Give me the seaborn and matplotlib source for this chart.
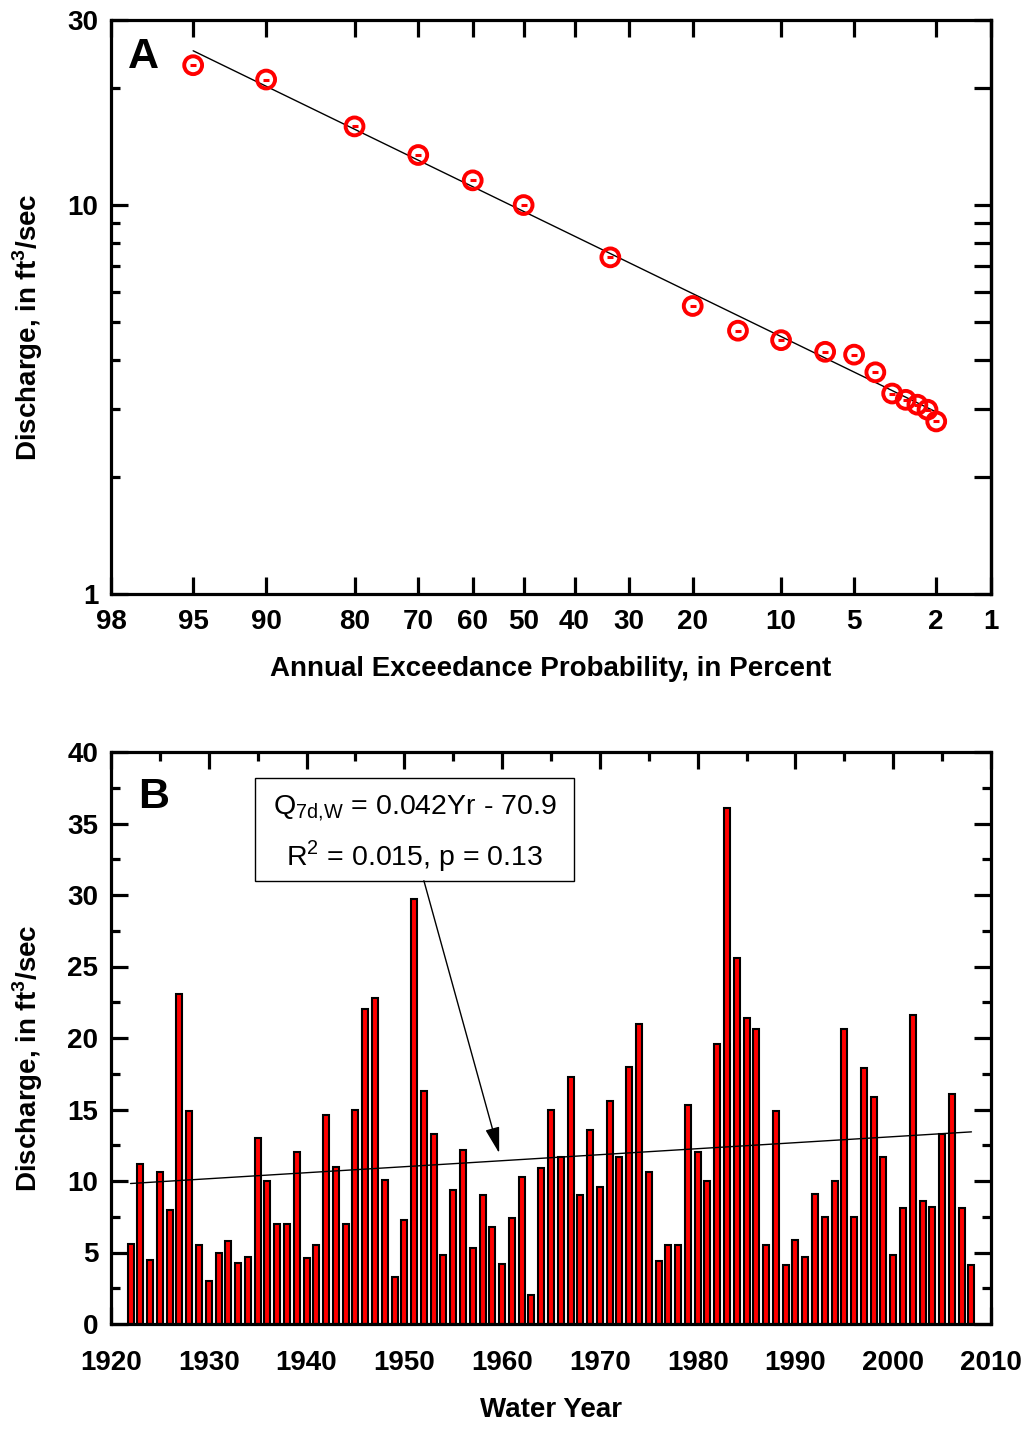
import numpy as np
import matplotlib
matplotlib.use("Agg")
import matplotlib.pyplot as plt
from matplotlib import font_manager
from matplotlib.ticker import FixedLocator, FixedFormatter, NullFormatter, NullLocator
from matplotlib.patches import Rectangle
import seaborn as sns
from statistics import NormalDist

# ---------------- data ----------------
# Panel A: annual 7-day low-flow frequency
exceed_pct = [95, 90, 80, 70, 60, 50, 33.3, 20, 14.3, 10, 6.67, 5, 4, 3.33, 2.86, 2.5, 2.22, 2]
flow_q = [22.95, 21.08, 15.97, 13.48, 11.60, 10.02, 7.35, 5.51, 4.76, 4.50, 4.20, 4.13,
          3.72, 3.28, 3.16, 3.07, 2.98, 2.78]
fit_pct = [95, 2]
fit_q = [25.0, 2.94]
prob_ticks = [98, 95, 90, 80, 70, 60, 50, 40, 30, 20, 10, 5, 2, 1]
q_ticks = [1, 10, 30]
q_minor = [2, 3, 4, 5, 6, 7, 8, 9, 20]

# Panel B: annual series by water year
water_years = list(range(1922, 2009))
annual_q = [5.6, 11.2, 4.5, 10.6, 8.0, 23.1, 14.9, 5.5, 3.0, 5.0,
            5.8, 4.3, 4.7, 13.0, 10.0, 7.0, 7.0, 12.0, 4.6, 5.5,
            14.6, 11.0, 7.0, 15.0, 22.0, 22.8, 10.1, 3.3, 7.3, 29.7,
            16.3, 13.3, 4.8, 9.4, 12.2, 5.3, 9.0, 6.8, 4.2, 7.4,
            10.3, 2.0, 10.9, 15.0, 11.7, 17.3, 9.0, 13.6, 9.6, 15.6,
            11.7, 18.0, 21.0, 10.6, 4.4, 5.5, 5.5, 15.3, 12.0, 10.0,
            19.6, 36.1, 25.6, 21.4, 20.6, 5.5, 14.9, 4.1, 5.9, 4.7,
            9.1, 7.5, 10.0, 20.6, 7.5, 17.9, 15.9, 11.7, 4.8, 8.1,
            21.6, 8.6, 8.2, 13.3, 16.1, 8.1, 4.1]
trend_slope = 0.042
trend_intercept = -70.9
trend_years = [1922, 2008]

# ---------------- style ----------------
sns.set_theme(style="ticks")
avail = {f.name for f in font_manager.fontManager.ttflist}
if "Liberation Sans Narrow" in avail:
    label_family = "Liberation Sans Narrow"
    big = 23
else:
    label_family = "Liberation Sans"
    big = 20
plt.rcParams["font.family"] = [label_family, "Liberation Sans", "DejaVu Sans"]
plt.rcParams["font.weight"] = "bold"
plt.rcParams["mathtext.fontset"] = "custom"
plt.rcParams["mathtext.rm"] = "Liberation Sans"
plt.rcParams["axes.linewidth"] = 2.3
for key in ("text.color", "axes.labelcolor", "axes.edgecolor", "xtick.color", "ytick.color"):
    plt.rcParams[key] = "black"

W, H = 1026, 1431
fig = plt.figure(figsize=(W / 100, H / 100), dpi=100)
fig.patch.set_facecolor("white")


def px_axes(left, top, right, bottom):
    return fig.add_axes([left / W, 1 - bottom / H, (right - left) / W, (bottom - top) / H])


ax_a = px_axes(111, 20, 991, 594)
ax_b = px_axes(111, 752, 991, 1324)

# ---------------- panel A ----------------
_nd = NormalDist()


def prob_fwd(p):
    # normal-probability position of an exceedance percentage (increasing in p)
    p = np.asarray(p, dtype=float)
    flat = np.clip(p.ravel(), 1e-6, 100 - 1e-6)
    out = np.array([_nd.inv_cdf(v / 100.0) if np.isfinite(v) else np.nan for v in flat])
    return out.reshape(p.shape)


def prob_inv(z):
    z = np.asarray(z, dtype=float)
    out = np.array([100.0 * _nd.cdf(v) if np.isfinite(v) else np.nan for v in z.ravel()])
    return out.reshape(z.shape)


sns.lineplot(x=fit_pct, y=fit_q, ax=ax_a, color="black", linewidth=1.0, sort=False, zorder=2)
sns.scatterplot(x=exceed_pct, y=flow_q, ax=ax_a, marker="o", s=165, facecolor="none",
                edgecolor="red", linewidth=2.8, zorder=3)
sns.scatterplot(x=exceed_pct, y=flow_q, ax=ax_a, marker="_", s=16, color="red",
                linewidth=2.2, zorder=4)

ax_a.set_xscale("function", functions=(prob_fwd, prob_inv))
ax_a.set_yscale("log")
ax_a.set_xlim(98, 1)
ax_a.set_ylim(1, 30)
ax_a.xaxis.set_major_locator(FixedLocator(prob_ticks))
ax_a.xaxis.set_major_formatter(FixedFormatter([str(t) for t in prob_ticks]))
ax_a.xaxis.set_minor_locator(NullLocator())
ax_a.yaxis.set_major_locator(FixedLocator(q_ticks))
ax_a.yaxis.set_major_formatter(FixedFormatter([str(t) for t in q_ticks]))
ax_a.yaxis.set_minor_locator(FixedLocator(q_minor))
ax_a.yaxis.set_minor_formatter(NullFormatter())
ax_a.tick_params(which="both", direction="in", top=True, right=False, width=2.3, labelsize=big)
ax_a.tick_params(which="major", length=12)
ax_a.tick_params(which="minor", length=6.5)
ax_a.tick_params(axis="x", pad=11)
ax_a.tick_params(axis="y", pad=9)

sec = ax_a.secondary_yaxis("right")
sec.yaxis.set_major_locator(FixedLocator(q_ticks))
sec.yaxis.set_minor_locator(FixedLocator(q_minor))
sec.yaxis.set_major_formatter(NullFormatter())
sec.yaxis.set_minor_formatter(NullFormatter())
sec.tick_params(which="both", direction="in", length=12, width=2.3, color="black")
sec.spines["right"].set_linewidth(2.3)
sec.spines["right"].set_color("black")

ax_a.set_xlabel("Annual Exceedance Probability, in Percent", fontsize=big, fontweight="bold")
ax_a.set_ylabel("Discharge, in ft$^{\\mathregular{3}}$/sec", fontsize=big, fontweight="bold")
ax_a.xaxis.set_label_coords(0.5, -0.108)
ax_a.yaxis.set_label_coords(-0.075, 0.464)
ax_a.text(0.0193, 0.9164, "A", transform=ax_a.transAxes, fontsize=31, fontweight="bold",
          family="Liberation Sans", ha="left", va="baseline")

# ---------------- panel B ----------------
sns.barplot(x=water_years, y=annual_q, ax=ax_b, native_scale=True, width=0.62,
            color="red", saturation=1, edgecolor="black", linewidth=1.5, errorbar=None, zorder=2)
trend_q = [trend_slope * yr + trend_intercept for yr in trend_years]
sns.lineplot(x=trend_years, y=trend_q, ax=ax_b, color="black", linewidth=1.0, zorder=3)

ax_b.set_xlim(1920, 2010)
ax_b.set_ylim(0, 40)
ax_b.xaxis.set_major_locator(FixedLocator(list(range(1920, 2011, 10))))
ax_b.xaxis.set_major_formatter(FixedFormatter([str(t) for t in range(1920, 2011, 10)]))
ax_b.xaxis.set_minor_locator(FixedLocator(list(range(1925, 2010, 10))))
ax_b.xaxis.set_minor_formatter(NullFormatter())
ax_b.yaxis.set_major_locator(FixedLocator(list(range(0, 41, 5))))
ax_b.yaxis.set_major_formatter(FixedFormatter([str(t) for t in range(0, 41, 5)]))
ax_b.yaxis.set_minor_locator(FixedLocator([v + 2.5 for v in range(0, 40, 5)]))
ax_b.yaxis.set_minor_formatter(NullFormatter())
ax_b.tick_params(which="both", direction="in", top=True, right=True, width=2.3, labelsize=big)
ax_b.tick_params(which="major", length=12)
ax_b.tick_params(which="minor", length=6.5)
ax_b.tick_params(axis="x", pad=19)
ax_b.tick_params(axis="y", pad=9)

ax_b.set_xlabel("Water Year", fontsize=big, fontweight="bold")
ax_b.set_ylabel("Discharge, in ft$^{\\mathregular{3}}$/sec", fontsize=big, fontweight="bold")
ax_b.xaxis.set_label_coords(0.5, -0.1276)
ax_b.yaxis.set_label_coords(-0.075, 0.465)
ax_b.text(0.0307, 0.902, "B", transform=ax_b.transAxes, fontsize=31, fontweight="bold",
          family="Liberation Sans", ha="left", va="baseline")

# regression summary box with arrow to the trend line
ax_b.add_patch(Rectangle((1934.7, 31.0), 32.7, 7.2, facecolor="white", edgecolor="black",
                         linewidth=1.0, zorder=5))
box_kw = dict(fontsize=20.5, fontweight="normal", family="Liberation Sans",
              ha="center", va="baseline", zorder=6, color="black")
ax_b.text(1951.05, 35.6, "Q$_{\\mathregular{7d{,}W}}$ = 0.042Yr - 70.9", **box_kw)
ax_b.text(1951.05, 32.1, "R$^{\\mathregular{2}}$ = 0.015, p = 0.13", **box_kw)
ax_b.annotate("", xy=(1959.7, 11.95), xytext=(1952.0, 31.0),
              arrowprops=dict(arrowstyle="-|>,head_length=0.8,head_width=0.22",
                              mutation_scale=20, color="black", lw=1.0,
                              shrinkA=0, shrinkB=0), zorder=6)

fig.savefig("out.png", dpi=100, facecolor="white")
